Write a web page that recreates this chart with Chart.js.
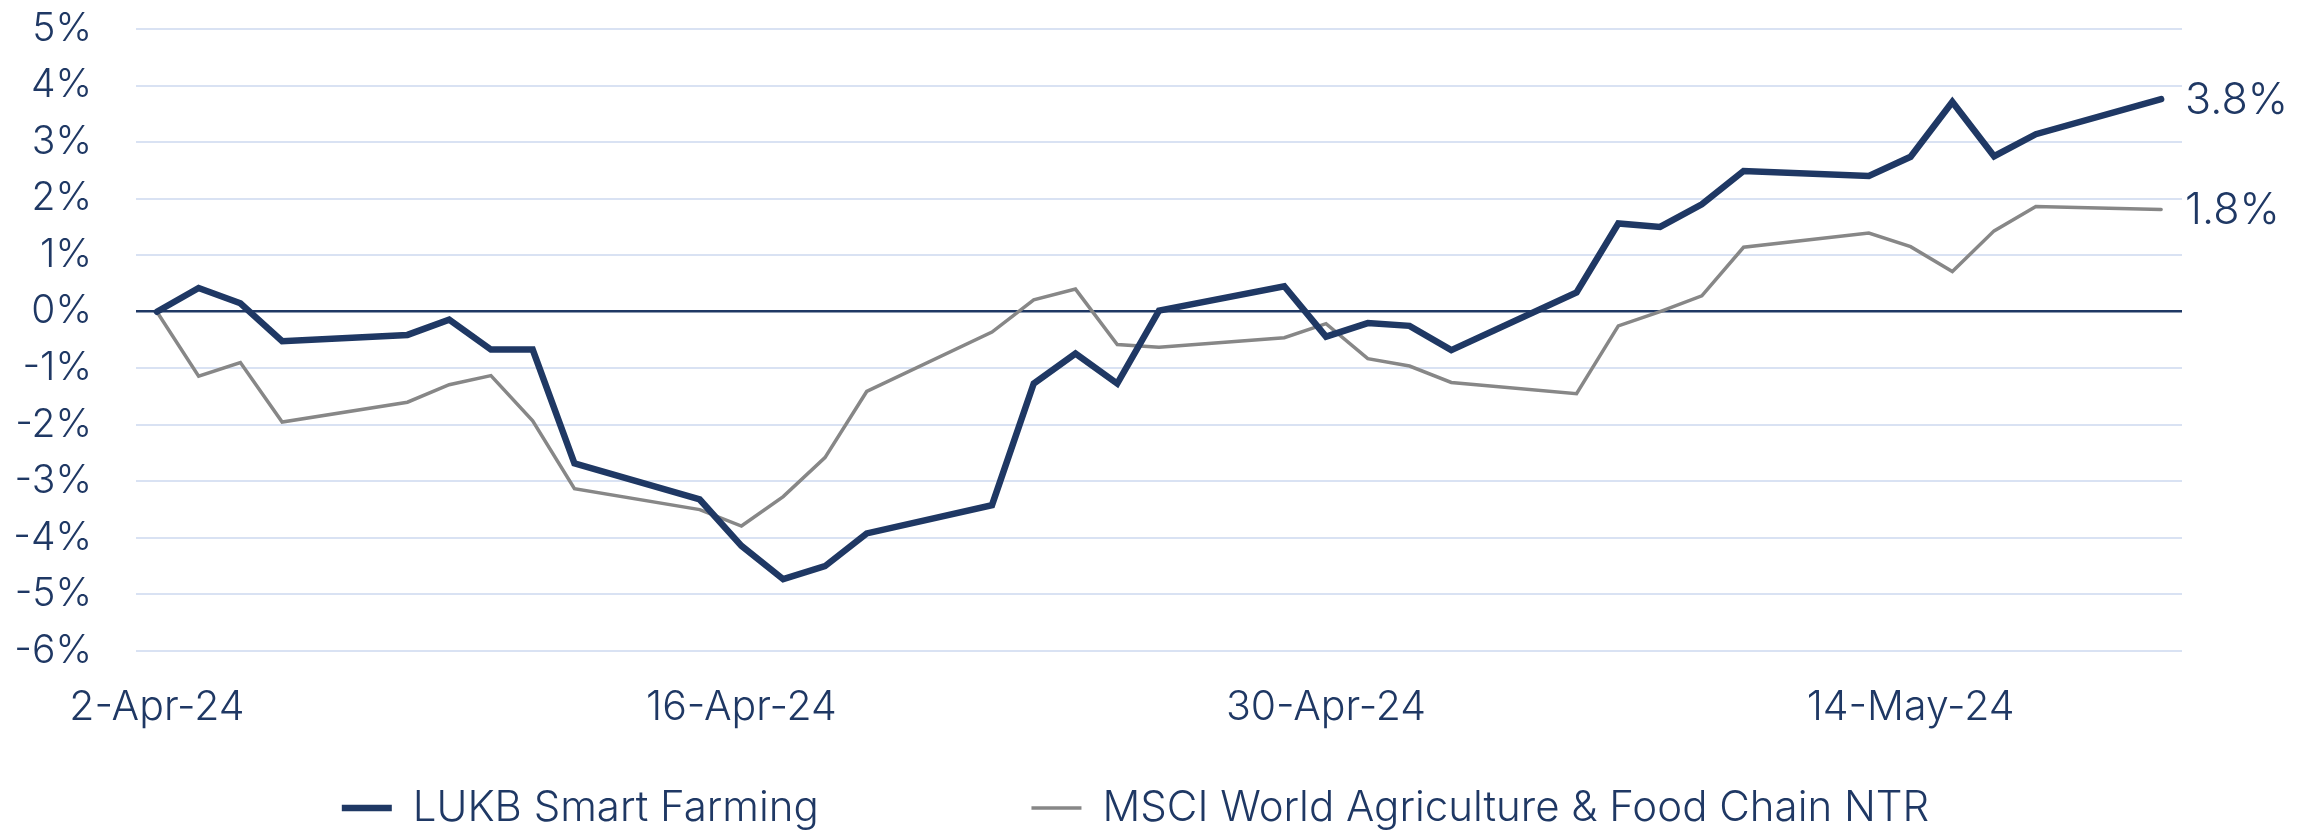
<!DOCTYPE html>
<html>
<head>
<meta charset="utf-8">
<script src="https://cdn.jsdelivr.net/npm/chart.js@4/dist/chart.umd.min.js"></script>
<style>
  html, body { margin: 0; padding: 0; background: #fff; }
  canvas { display: block; }
</style>
</head>
<body>
<canvas id="perfChart" width="2316" height="839"></canvas>
<script>
// trading days, counted from 2-Apr-24
const days = [0,1,2,3,6,7,8,9,10,13,14,15,16,17,20,21,22,23,24,27,28,29,30,31,34,35,36,37,38,41,42,43,44,45,48];

// performance in %
const smartFarming = [0,0.42,0.15,-0.52,-0.41,-0.14,-0.67,-0.67,-2.68,-3.32,-4.14,-4.73,-4.50,-3.92,-3.42,-1.27,-0.74,-1.27,0.02,0.45,-0.44,-0.20,-0.25,-0.68,0.34,1.56,1.50,1.90,2.49,2.40,2.74,3.71,2.75,3.14,3.76];
const msciAgri = [0,-1.14,-0.90,-1.95,-1.60,-1.29,-1.13,-1.93,-3.13,-3.50,-3.79,-3.27,-2.58,-1.41,-0.36,0.21,0.40,-0.58,-0.63,-0.46,-0.21,-0.83,-0.96,-1.25,-1.45,-0.25,0.00,0.28,1.14,1.39,1.15,0.71,1.43,1.86,1.81];

const seriesNames = ['LUKB Smart Farming', 'MSCI World Agriculture & Food Chain NTR'];
const tickDays = [0, 14, 28, 42];
const tickLabels = ['2-Apr-24', '16-Apr-24', '30-Apr-24', '14-May-24'];

const navy = '#1f3864';
const grey = '#878787';
const FONT = 'Inter, "Open Sans", sans-serif';

// value label at the end of each line
const endLabels = {
  id: 'endLabels',
  afterDatasetsDraw(chart) {
    const ctx = chart.ctx;
    ctx.save();
    ctx.font = '300 43px ' + FONT;
    ctx.fillStyle = navy;
    ctx.textAlign = 'left';
    ctx.textBaseline = 'middle';
    chart.data.datasets.forEach((ds, i) => {
      const meta = chart.getDatasetMeta(i);
      const pt = meta.data[meta.data.length - 1];
      const v = ds.data[ds.data.length - 1].y;
      ctx.fillText(v.toFixed(1) + '%', pt.x + 24, pt.y + 2);
    });
    ctx.restore();
  }
};

new Chart(document.getElementById('perfChart'), {
  type: 'line',
  data: {
    datasets: [
      {
        label: seriesNames[0],
        data: days.map((d, i) => ({ x: d, y: smartFarming[i] })),
        borderColor: navy,
        backgroundColor: navy,
        borderWidth: 6.5,
        borderCapStyle: 'round',
        pointRadius: 0,
        tension: 0
      },
      {
        label: seriesNames[1],
        data: days.map((d, i) => ({ x: d, y: msciAgri[i] })),
        borderColor: grey,
        backgroundColor: grey,
        borderWidth: 3.5,
        borderCapStyle: 'round',
        pointRadius: 0,
        tension: 0
      }
    ]
  },
  options: {
    responsive: false,
    animation: false,
    devicePixelRatio: 1,
    layout: { padding: { top: 29, right: 45, bottom: 0, left: 0 } },
    plugins: {
      tooltip: { enabled: false },
      legend: {
        position: 'bottom',
        labels: {
          usePointStyle: true,
          pointStyle: 'line',
          pointStyleWidth: 50,
          boxWidth: 50,
          padding: 0,
          color: navy,
          font: { family: FONT, size: 42, weight: '300' },
          // wide gap between the two entries
          generateLabels(chart) {
            const items = Chart.defaults.plugins.legend.labels.generateLabels(chart);
            items[0].text = items[0].text + '\u00a0'.repeat(18);
            return items;
          }
        }
      }
    },
    scales: {
      x: {
        type: 'linear',
        min: -0.5,
        max: 48.5,
        afterBuildTicks(scale) {
          scale.ticks = tickDays.map(v => ({ value: v }));
        },
        afterFit(scale) { scale.height = 136; },
        grid: { display: false, drawTicks: false },
        border: { display: false },
        ticks: {
          padding: 32,
          autoSkip: false,
          maxRotation: 0,
          color: navy,
          font: { family: FONT, size: 41, weight: '300' },
          callback: v => tickLabels[tickDays.indexOf(v)]
        }
      },
      y: {
        min: -6,
        max: 5,
        afterFit(scale) {
          scale.width = 136;
          scale.paddingTop = 0;
          scale.paddingBottom = 0;
        },
        grid: {
          drawTicks: false,
          lineWidth: ctx => ctx.tick && ctx.tick.value === 0 ? 2.5 : 2,
          color: ctx => ctx.tick && ctx.tick.value === 0 ? navy : '#d9e2f3'
        },
        border: { display: false },
        ticks: {
          stepSize: 1,
          padding: 44,
          color: navy,
          font: { family: FONT, size: 39, weight: '300' },
          callback: v => v + '%'
        }
      },
      yRight: {
        position: 'right',
        min: -6,
        max: 5,
        afterFit(scale) {
          scale.width = 89;
          scale.paddingTop = 0;
          scale.paddingBottom = 0;
        },
        grid: { display: false, drawTicks: false },
        border: { display: false },
        ticks: { display: false }
      }
    }
  },
  plugins: [endLabels]
});
</script>
</body>
</html>
